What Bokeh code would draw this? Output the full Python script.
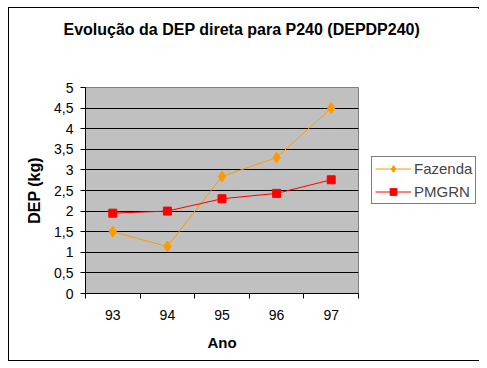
from bokeh.plotting import figure
from bokeh.models import FixedTicker, Legend, LegendItem, Range1d, Title
from bokeh.embed import file_html
from bokeh.resources import INLINE

anos = ["93", "94", "95", "96", "97"]
fazenda = [1.5, 1.14, 2.84, 3.3, 4.5]
pmgrn = [1.95, 2.0, 2.3, 2.43, 2.76]
y_ticks = [0, 0.5, 1, 1.5, 2, 2.5, 3, 3.5, 4, 4.5, 5]
y_tick_labels = ["0", "0,5", "1", "1,5", "2", "2,5", "3", "3,5", "4", "4,5", "5"]
titulo = "Evolução da DEP direta para P240 (DEPDP240)"

xs = list(range(1, len(anos) + 1))

p = figure(frame_width=273, frame_height=206, output_backend="svg", toolbar_location=None,
           x_range=Range1d(0.5, 5.5), y_range=Range1d(0, 5),
           min_border_left=76, min_border_top=79, min_border_right=120, min_border_bottom=67)
p.styles = {"margin-left": "8px", "margin-top": "7px", "border": "1px solid black",
            "width": "469px", "height": "352px", "box-sizing": "content-box"}
p.background_fill_color = "#C0C0C0"
p.border_fill_color = "white"
p.outline_line_color = "#808080"
p.outline_line_width = 1

p.title.text = titulo
p.title.text_font = "Liberation Sans"
p.title.text_font_size = "16px"
p.title.text_font_style = "bold"
p.title.text_color = "black"
p.title.align = "left"
p.title.offset = -22
p.title.standoff = 0
# spacer title (closest to the frame) pushes the real title upward
p.add_layout(Title(text=" ", text_font_size="1px", standoff=47), "above")

# x axis
p.xaxis.ticker = FixedTicker(ticks=xs, minor_ticks=[0.5, 1.5, 2.5, 3.5, 4.5, 5.5])
p.xaxis.major_label_overrides = {x: a for x, a in zip(xs, anos)}
p.xaxis.major_tick_line_color = None
p.xaxis.major_tick_out = 0
p.xaxis.major_tick_in = 0
p.xaxis.minor_tick_line_color = "black"
p.xaxis.minor_tick_out = 5
p.xaxis.minor_tick_in = 0
p.xaxis.major_label_standoff = 11
p.xaxis.axis_label = "Ano"
p.xaxis.axis_label_standoff = 11
p.xaxis.axis_label_text_font_size = "15px"

# y axis
p.yaxis.ticker = FixedTicker(ticks=y_ticks)
p.yaxis.major_label_overrides = {t: l for t, l in zip(y_ticks, y_tick_labels)}
p.yaxis.minor_tick_line_color = None
p.yaxis.major_tick_out = 5
p.yaxis.major_tick_in = 0
p.yaxis.major_label_standoff = 7
p.yaxis.axis_label = "DEP (kg)"
p.yaxis.axis_label_standoff = 8
p.yaxis.axis_label_text_font_size = "16px"

for ax in (p.xaxis, p.yaxis):
    ax.axis_line_color = "black"
    ax.major_label_text_font = "Liberation Sans"
    ax.major_label_text_font_size = "14px"
    ax.major_label_text_color = "black"
    ax.axis_label_text_font = "Liberation Sans"
    ax.axis_label_text_font_style = "bold"
    ax.axis_label_text_color = "black"

p.xgrid.grid_line_color = None
p.ygrid.ticker = FixedTicker(ticks=y_ticks)
p.ygrid.grid_line_color = "black"
p.ygrid.grid_line_alpha = 1

l1 = p.line(xs, fazenda, line_color="#FF9900", line_width=1)
m1 = p.scatter(xs, fazenda, marker="diamond", size=11, fill_color="#FF9900", line_color="#FF9900")
l2 = p.line(xs, pmgrn, line_color="#FF0000", line_width=1)
m2 = p.scatter(xs, pmgrn, marker="square", size=8, fill_color="#FF0000", line_color="#FF0000")

legend = Legend(items=[LegendItem(label="Fazenda", renderers=[l1, m1]),
                       LegendItem(label="PMGRN", renderers=[l2, m2])],
                location=(13, 89), orientation="vertical",
                border_line_color="black", border_line_width=1,
                background_fill_color="white", background_fill_alpha=1,
                label_text_font="Liberation Sans", label_text_font_size="15px",
                glyph_width=36, glyph_height=17, label_height=17,
                label_standoff=3, spacing=6, padding=3, margin=0)
p.add_layout(legend, "right")

open("out.html", "w").write(file_html(p, INLINE))
